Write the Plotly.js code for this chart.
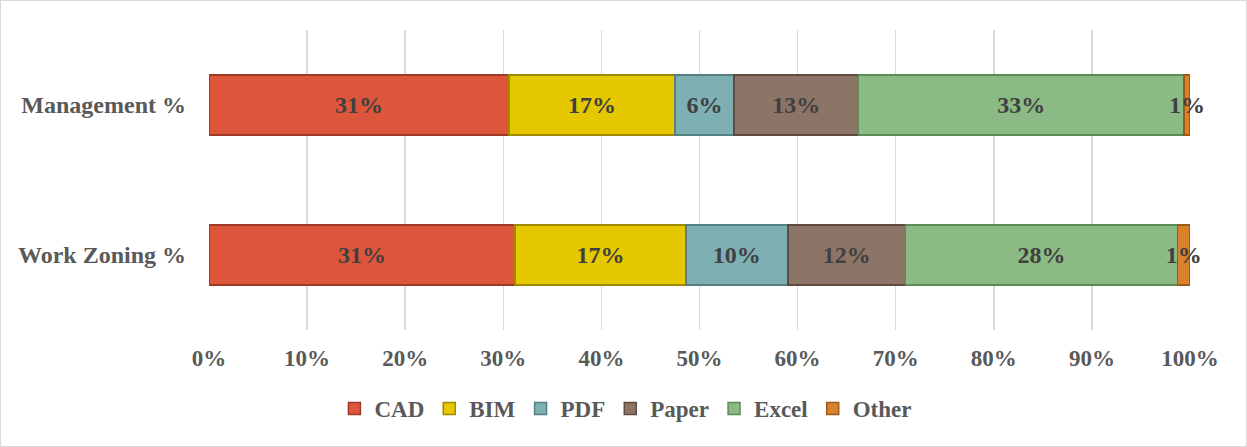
<!DOCTYPE html>
<html>
<head>
<meta charset="utf-8">
<script src="https://cdn.plot.ly/plotly-3.0.1.min.js"></script>
<style>
  html, body { margin: 0; padding: 0; background: #fff; }
  #chart { width: 1245px; height: 445px; border: 1px solid #d9d9d9; }
</style>
</head>
<body>
<div id="chart"></div>
<script>
const categories = ["Work Zoning %", "Management %"];
const seriesNames = ["CAD", "BIM", "PDF", "Paper", "Excel", "Other"];
const CAD   = [31.2, 30.6];
const BIM   = [17.4, 16.9];
const PDF   = [10.4, 6.0];
const Paper = [12.0, 12.7];
const Excel = [27.7, 33.2];
const Other = [1.3, 0.6];
const xTickVals = [0, 10, 20, 30, 40, 50, 60, 70, 80, 90, 100];
const xTickText = ["0%", "10%", "20%", "30%", "40%", "50%", "60%", "70%", "80%", "90%", "100%"];

const seriesValues = [CAD, BIM, PDF, Paper, Excel, Other];
const colors = ["#DD563B", "#E6C800", "#7DAFB3", "#8C7466", "#8CBA85", "#D9822B"];
const edges  = ["#9E3A27", "#A08A00", "#56807F", "#5E4B42", "#5E8A58", "#9A5A18"];

const font = "Liberation Serif, Times New Roman, serif";
const labelColor = "#595959";
const dataColor = "#404040";

const traces = seriesNames.map((name, i) => ({
  type: "bar",
  orientation: "h",
  name: name,
  y: categories,
  x: seriesValues[i],
  width: 0.4,
  marker: { color: colors[i], line: { color: edges[i], width: 1.5 } },
  text: seriesValues[i].map(v => Math.round(v) + "%"),
  texttemplate: "%{text}",
  textposition: "inside",
  insidetextanchor: "middle",
  textangle: 0,
  constraintext: "none",
  cliponaxis: false,
  textfont: { family: font, size: 24, color: dataColor, weight: "bold" },
  hoverinfo: "x+name"
}));

const layout = {
  width: 1245,
  height: 445,
  margin: { l: 208, r: 56, t: 29, b: 116 },
  paper_bgcolor: "#ffffff",
  plot_bgcolor: "#ffffff",
  barmode: "stack",
  showlegend: true,
  legend: {
    orientation: "h",
    x: 0.425, xanchor: "center",
    y: -0.19, yanchor: "top",
    font: { family: font, size: 23, color: labelColor, weight: "bold" },
    traceorder: "normal",
    itemwidth: 30
  },
  xaxis: {
    range: [0, 100],
    tickvals: xTickVals,
    ticktext: xTickText,
    showgrid: true,
    gridcolor: "#d9d9d9",
    gridwidth: 1.5,
    zeroline: false,
    showline: false,
    ticks: "",
    ticklabelstandoff: 12,
    tickfont: { family: font, size: 23, color: labelColor, weight: "bold" },
    fixedrange: true
  },
  yaxis: {
    categoryorder: "array",
    categoryarray: categories,
    range: [-0.5, 1.5],
    showgrid: false,
    zeroline: false,
    showline: false,
    ticks: "",
    ticklabelstandoff: 22,
    tickfont: { family: font, size: 24, color: labelColor, weight: "bold" },
    fixedrange: true
  }
};

Plotly.newPlot("chart", traces, layout, { displayModeBar: false, staticPlot: true });
</script>
</body>
</html>
